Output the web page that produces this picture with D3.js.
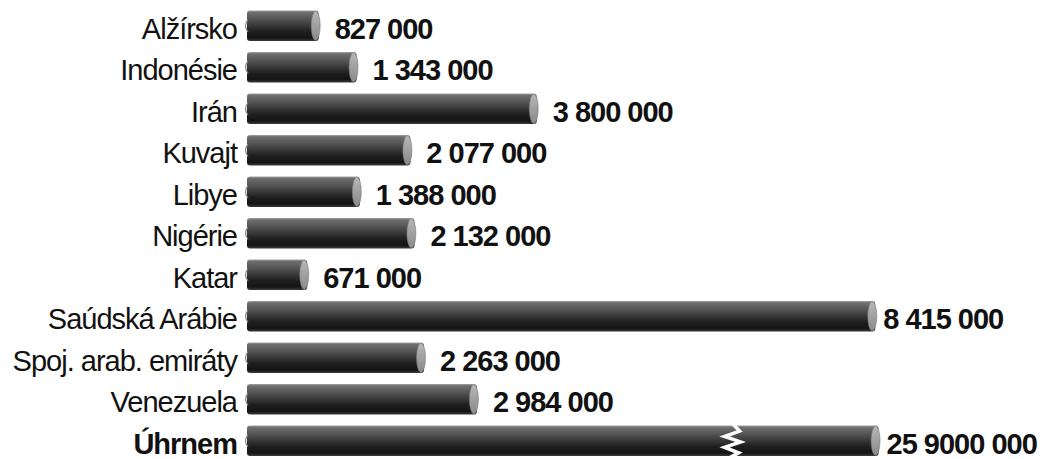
<!DOCTYPE html>
<html>
<head>
<meta charset="utf-8">
<script src="https://cdn.jsdelivr.net/npm/d3@7"></script>
<style>
  body { margin: 0; background: #fff; }
  text { font-family: "Liberation Sans", Arial, sans-serif; fill: #111; }
</style>
</head>
<body>
<div id="chart"></div>
<script>
const countries = ["Alžírsko", "Indonésie", "Irán", "Kuvajt", "Libye", "Nigérie", "Katar",
    "Saúdská Arábie", "Spoj. arab. emiráty", "Venezuela", "Úhrnem"];
const values = [827000, 1343000, 3800000, 2077000, 1388000, 2132000, 671000,
    8415000, 2263000, 2984000, 25900000];
const valueLabels = ["827 000", "1 343 000", "3 800 000", "2 077 000", "1 388 000", "2 132 000",
    "671 000", "8 415 000", "2 263 000", "2 984 000", "25 9000 000"];
// the total bar is cut: drawn only to this length, with a break mark
const brokenBarCap = 8460000;
const breakAt = 6470000;

const W = 1043, H = 459;

const data = countries.map((c, i) => ({ country: c, value: values[i], label: valueLabels[i], total: i === countries.length - 1 }));

const svg = d3.select("#chart")
    .append("svg")
    .attr("width", W)
    .attr("height", H);

const x = d3.scaleLinear()
    .domain([0, 10000000])
    .range([258, 991.5]);

const y = d3.scaleBand()
    .domain(countries)
    .range([5, 461.5])
    .paddingInner(0.27)
    .paddingOuter(0.135);

const barStart = 247;

// cylinder shading
const defs = svg.append("defs");
const grad = defs.append("linearGradient")
    .attr("id", "cyl")
    .attr("x1", 0).attr("y1", 0).attr("x2", 0).attr("y2", 1);
[
    [0, "#a0a0a0"], [0.06, "#6e6e6e"], [0.25, "#585858"], [0.45, "#3e3e3e"],
    [0.7, "#1e1e1e"], [0.9, "#141414"], [1, "#3a3a3a"]
].forEach(([o, c]) => grad.append("stop").attr("offset", o).attr("stop-color", c));

const capGrad = defs.append("linearGradient")
    .attr("id", "cap")
    .attr("x1", 0).attr("y1", 0).attr("x2", 0).attr("y2", 1);
[[0, "#b8b8b8"], [0.5, "#a0a0a0"], [1, "#8a8a8a"]]
    .forEach(([o, c]) => capGrad.append("stop").attr("offset", o).attr("stop-color", c));

const barEnd = d => x(d.total ? brokenBarCap : d.value);

const rows = svg.selectAll(".row")
    .data(data)
    .enter()
    .append("g")
    .attr("class", "row")
    .attr("transform", d => `translate(0,${y(d.country)})`);

const bh = y.bandwidth();

// bar body
rows.append("rect")
    .attr("x", barStart)
    .attr("y", 0)
    .attr("width", d => barEnd(d) - barStart)
    .attr("height", bh)
    .attr("rx", 3)
    .attr("fill", "url(#cyl)");

// right end cap
rows.append("ellipse")
    .attr("cx", d => barEnd(d) - 3)
    .attr("cy", bh / 2)
    .attr("rx", 4.5)
    .attr("ry", bh / 2 - 0.5)
    .attr("fill", "url(#cap)")
    .attr("stroke", "#777")
    .attr("stroke-width", 0.6);

// little left notch
rows.append("path")
    .attr("d", `M${barStart + 1},${bh * 0.3} Q${barStart - 4},${bh * 0.5} ${barStart + 1},${bh * 0.7}`)
    .attr("fill", "none")
    .attr("stroke", "#888")
    .attr("stroke-width", 1.2);

// break mark on the total bar
rows.filter(d => d.total)
    .append("path")
    .attr("d", () => {
        const bx = x(breakAt);
        return `M${bx - 2},${-4} L${bx + 7},${bh * 0.18} L${bx - 8},${bh * 0.36} L${bx + 8},${bh * 0.54} L${bx - 8},${bh * 0.72} L${bx + 6},${bh * 0.9} L${bx - 3},${bh + 2}`;
    })
    .attr("fill", "none")
    .attr("stroke", "#fff")
    .attr("stroke-width", 3.5)
    .attr("stroke-linejoin", "miter");

// category labels
rows.append("text")
    .attr("x", 237)
    .attr("y", bh / 2 + 13)
    .attr("text-anchor", "end")
    .style("font-size", "29px")
    .style("letter-spacing", "-1px")
    .style("font-weight", d => d.total ? "bold" : "normal")
    .text(d => d.country);

// value labels
rows.append("text")
    .attr("x", d => barEnd(d) + (barEnd(d) > 800 ? 8 : 16))
    .attr("y", bh / 2 + 13)
    .style("font-size", "29px")
    .style("letter-spacing", "-1px")
    .style("font-weight", "bold")
    .text(d => d.label);
</script>
</body>
</html>
